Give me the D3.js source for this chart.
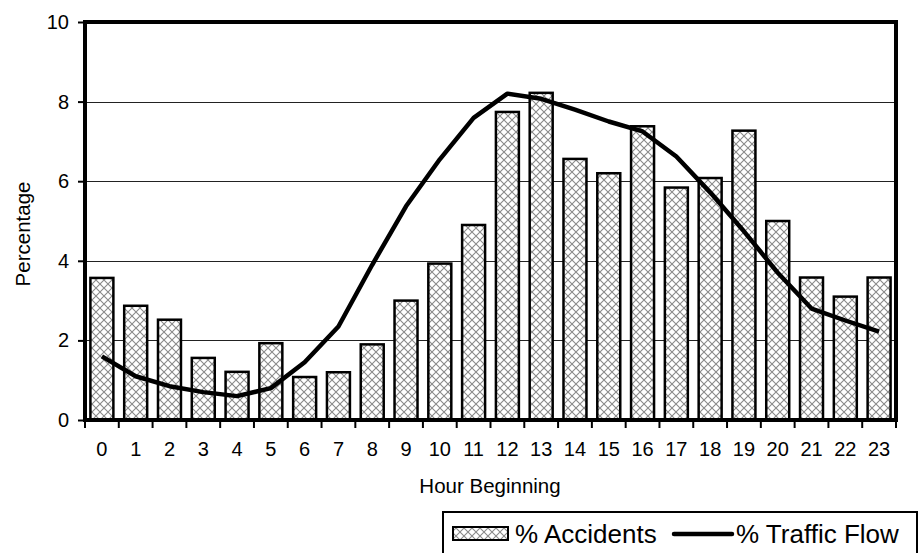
<!DOCTYPE html>
<html><head><meta charset="utf-8">
<script src="https://cdn.jsdelivr.net/npm/d3@7"></script>
<style>body{margin:0;background:#fff}svg{display:block;font-family:"Liberation Sans",Arial,sans-serif}</style>
</head><body><svg id="c" width="922" height="553"></svg>
<script>
const hours = ["0","1","2","3","4","5","6","7","8","9","10","11","12","13","14","15","16","17","18","19","20","21","22","23"];
const accidents = [3.57,2.87,2.52,1.56,1.21,1.93,1.08,1.2,1.9,3.0,3.93,4.9,7.74,8.22,6.56,6.2,7.38,5.84,6.08,7.27,5.0,3.58,3.1,3.58];
const traffic = [1.6,1.1,0.85,0.7,0.6,0.8,1.45,2.35,3.9,5.37,6.55,7.59,8.2,8.07,7.8,7.5,7.25,6.62,5.72,4.74,3.7,2.8,2.5,2.22];
const yTicks = [0,2,4,6,8,10];

const svg = d3.select("#c");
const L=85, R=896, T=22, B=420;
const x = d3.scaleBand().domain(hours).range([L,R]).paddingInner(0.32).paddingOuter(0.16);
const xb = d3.scaleBand().domain(hours).range([L,R]);
const y = d3.scaleLinear().domain([0,10]).range([B,T]);

const defs = svg.append("defs");
const pat = defs.append("pattern").attr("id","hatch").attr("patternUnits","userSpaceOnUse").attr("width",8).attr("height",8);
pat.append("rect").attr("width",8).attr("height",8).attr("fill","#fff");
pat.append("path").attr("d","M0,0L8,8M8,0L0,8").attr("stroke","#8a8a8a").attr("stroke-width",1.1);

// gridlines
svg.append("g").selectAll("line").data(yTicks.filter(d=>d>0&&d<10)).join("line")
  .attr("x1",L).attr("x2",R).attr("y1",d=>Math.round(y(d))+0.5).attr("y2",d=>Math.round(y(d))+0.5)
  .attr("stroke","#222").attr("stroke-width",1);

// bars
svg.append("g").selectAll("rect").data(accidents).join("rect")
  .attr("x",(d,i)=>x(hours[i])).attr("width",x.bandwidth())
  .attr("y",d=>y(d)).attr("height",d=>B-y(d))
  .attr("fill","url(#hatch)").attr("stroke","#000").attr("stroke-width",2.5);

// line
svg.append("path").datum(traffic)
  .attr("d",d3.line().x((d,i)=>xb(hours[i])+xb.bandwidth()/2).y(d=>y(d)))
  .attr("fill","none").attr("stroke","#000").attr("stroke-width",4.5).attr("stroke-linejoin","round");

// frame
svg.append("rect").attr("x",L).attr("y",T).attr("width",R-L).attr("height",B-T)
  .attr("fill","none").attr("stroke","#000").attr("stroke-width",4);

// y axis
const ya = svg.append("g").attr("transform",`translate(${L},0)`)
  .call(d3.axisLeft(y).tickValues(yTicks).tickSize(7).tickPadding(9).tickFormat(d3.format("d")));
ya.select(".domain").remove();
ya.selectAll("line").attr("stroke","#000").attr("stroke-width",2);
ya.selectAll("text").attr("font-size",20).attr("fill","#000").style("font-family","Liberation Sans, Arial");

// x axis
const xa = svg.append("g").attr("transform",`translate(0,${B})`)
  .call(d3.axisBottom(xb).tickSize(0).tickPadding(22));
xa.select(".domain").remove();
xa.selectAll("text").attr("font-size",20).attr("fill","#000").style("font-family","Liberation Sans, Arial");
svg.append("g").selectAll("line").data(hours.concat(["end"])).join("line")
  .attr("x1",(d,i)=>i<24?xb(d):R).attr("x2",(d,i)=>i<24?xb(d):R)
  .attr("y1",B).attr("y2",B+8).attr("stroke","#000").attr("stroke-width",2);

// axis titles
svg.append("text").attr("x",490).attr("y",493).attr("text-anchor","middle").attr("font-size",20.5).text("Hour Beginning");
svg.append("text").attr("transform","translate(30,234) rotate(-90)").attr("text-anchor","middle").attr("font-size",20.5).text("Percentage");

// legend
const lg = svg.append("g");
lg.append("rect").attr("x",443).attr("y",512).attr("width",474).attr("height",44).attr("fill","#fff").attr("stroke","#000").attr("stroke-width",2);
lg.append("rect").attr("x",453).attr("y",527).attr("width",55).attr("height",13).attr("fill","url(#hatch)").attr("stroke","#000").attr("stroke-width",2);
lg.append("text").attr("x",515).attr("y",543).attr("font-size",26).text("% Accidents");
lg.append("line").attr("x1",674).attr("x2",732).attr("y1",534).attr("y2",534).attr("stroke","#000").attr("stroke-width",4.5).attr("stroke-linecap","round");
lg.append("text").attr("x",736).attr("y",543).attr("font-size",26).text("% Traffic Flow");
</script></body></html>
